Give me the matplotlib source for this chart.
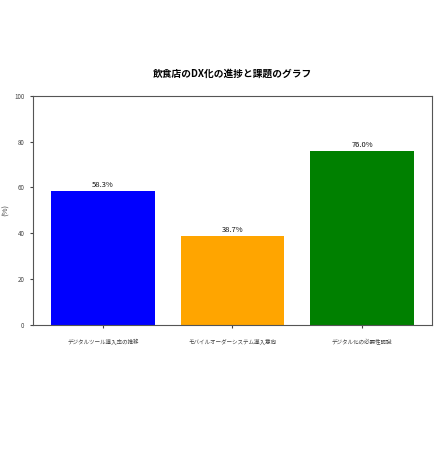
import matplotlib
matplotlib.use("Agg")
import matplotlib.pyplot as plt

categories = ["デジタルツール導入率の推移", "モバイルオーダーシステム導入意向", "デジタル化の必要性認識"]
values = [58.3, 38.7, 76.0]
colors = ["blue", "orange", "green"]
title = "飲食店のDX化の進捗と課題のグラフ"

plt.rcParams['font.family'] = ['Noto Sans CJK JP', 'DejaVu Sans']

fig = plt.figure(figsize=(4.39, 4.5), dpi=100)
ax = fig.add_axes([0.075, 0.278, 0.909, 0.509])
bars = ax.bar(categories, values, color=colors, width=0.8)
for b, v in zip(bars, values):
    ax.text(b.get_x() + b.get_width() / 2, v + 1, f"{v}%", ha="center", va="bottom",
            fontsize=5.5, color="#111111")
ax.set_ylim(0, 100)
ax.set_ylabel("(%)", fontsize=5.5, color="#444444")
ax.yaxis.set_label_coords(-0.058, 0.5)
ax.set_title(title, fontsize=7, pad=14, fontweight="bold")
ax.tick_params(axis='x', labelsize=4, pad=8, colors="#444444", length=2)
ax.tick_params(axis='y', labelsize=4.5, colors="#444444", length=2.5)
for s in ax.spines.values():
    s.set_color('#555555')
fig.savefig("out.png", dpi=100)
